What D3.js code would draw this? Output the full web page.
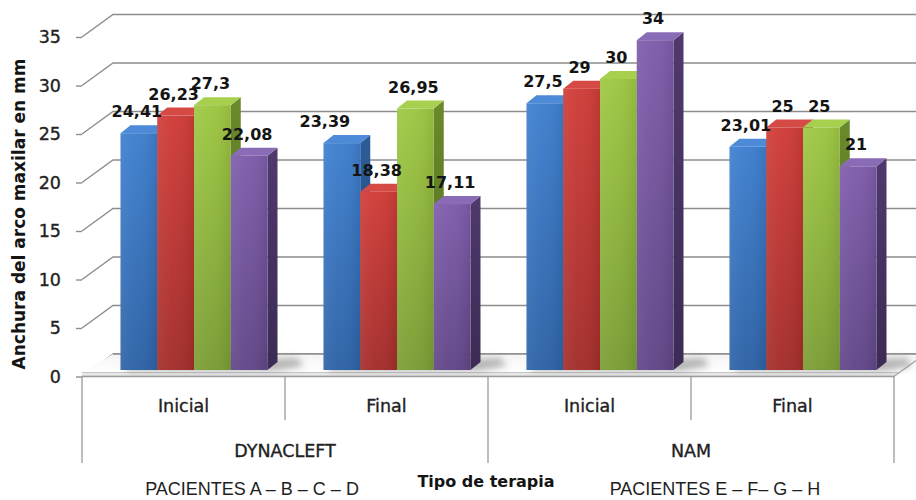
<!DOCTYPE html>
<html>
<head>
<meta charset="utf-8">
<script src="https://cdn.jsdelivr.net/npm/d3@7"></script>
<style>
  html, body { margin: 0; padding: 0; background: #fff; }
  svg { display: block; }
</style>
</head>
<body>
<svg id="chart" width="916" height="500"></svg>
<script>
// ---- data ----
const categories = ["Inicial", "Final", "Inicial", "Final"];
const therapies = ["DYNACLEFT", "NAM"];
const patientGroups = ["PACIENTES A – B – C – D", "PACIENTES E – F– G – H"];
const seriesNames = ["A", "B", "C", "D"];
const serieA = [24.41, 23.39, 27.5, 23.01];
const serieB = [26.23, 18.38, 29, 25];
const serieC = [27.3, 26.95, 30, 25];
const serieD = [22.08, 17.11, 34, 21];
const yTicks = [0, 5, 10, 15, 20, 25, 30, 35];
const yTitle = "Anchura del arco maxilar en mm";
const xTitle = "Tipo de terapia";

const seriesValues = [serieA, serieB, serieC, serieD];

// ---- style ----
const palette = [
  { top: "#4d8bd8", f1: "#3e7fcf", f2: "#2d62a6", s1: "#2c5c98", s2: "#22477a" },
  { top: "#d64a45", f1: "#d03c38", f2: "#a32d2b", s1: "#8c2824", s2: "#6e1e1b" },
  { top: "#a8d04f", f1: "#9ec742", f2: "#7a9d34", s1: "#6a8a2b", s2: "#526b21" },
  { top: "#8a6bb6", f1: "#7e5cab", f2: "#614687", s1: "#4f396d", s2: "#3c2b54" }
];

const svg = d3.select("#chart");
const defs = svg.append("defs");

palette.forEach((p, i) => {
  const gf = defs.append("linearGradient").attr("id", "front" + i)
    .attr("x1", 0).attr("y1", 0).attr("x2", 0).attr("y2", 1);
  gf.append("stop").attr("offset", "0%").attr("stop-color", p.f1);
  gf.append("stop").attr("offset", "100%").attr("stop-color", p.f2);
  const gh = defs.append("linearGradient").attr("id", "frontH" + i)
    .attr("x1", 0).attr("y1", 0).attr("x2", 1).attr("y2", 0);
  gh.append("stop").attr("offset", "0%").attr("stop-color", "#fff").attr("stop-opacity", 0.08);
  gh.append("stop").attr("offset", "40%").attr("stop-color", "#fff").attr("stop-opacity", 0.03);
  gh.append("stop").attr("offset", "100%").attr("stop-color", "#000").attr("stop-opacity", 0.08);
  const gs = defs.append("linearGradient").attr("id", "side" + i)
    .attr("x1", 0).attr("y1", 0).attr("x2", 0).attr("y2", 1);
  gs.append("stop").attr("offset", "0%").attr("stop-color", p.s1);
  gs.append("stop").attr("offset", "100%").attr("stop-color", p.s2);
});

const floorGrad = defs.append("linearGradient").attr("id", "floorG")
  .attr("x1", 0).attr("y1", 0).attr("x2", 0).attr("y2", 1);
floorGrad.append("stop").attr("offset", "0%").attr("stop-color", "#f4f4f4");
floorGrad.append("stop").attr("offset", "100%").attr("stop-color", "#ffffff");
const edgeGrad = defs.append("linearGradient").attr("id", "edgeG")
  .attr("x1", 0).attr("y1", 0).attr("x2", 0).attr("y2", 1);
edgeGrad.append("stop").attr("offset", "0%").attr("stop-color", "#f0f0f0");
edgeGrad.append("stop").attr("offset", "100%").attr("stop-color", "#dcdcdc");

defs.append("filter").attr("id", "blur").attr("x", "-50%").attr("y", "-50%")
  .attr("width", "200%").attr("height", "200%")
  .append("feGaussianBlur").attr("stdDeviation", 3.5);

// ---- geometry ----
const left = 82, right = 894;
const wallDX = 31, wallDY = -22.5;
const y = d3.scaleLinear().domain([0, 35]).range([376.5, 37]);
const x = d3.scaleBand().domain(d3.range(categories.length)).range([left, right]).padding(0);
const groupWidth = 147;
const groupShift = 10.5;
const xSub = d3.scaleBand().domain(seriesNames).range([0, groupWidth]).padding(0);
const barDY = -6.5;           // bars sit slightly behind the front floor edge
const depthDX = 10, depthDY = -8; // bar depth
const yb = v => y(v) + barDY;

// ---- walls / gridlines ----
const grid = svg.append("g");
yTicks.forEach(t => {
  const y0 = y(t);
  grid.append("path")
    .attr("d", `M${left},${y0}L${left + wallDX},${y0 + wallDY}L916,${y0 + wallDY}`)
    .attr("fill", "none").attr("stroke", "#8d8d8d").attr("stroke-width", 1.4);
});

// ---- floor ----
const yF = y(0);
const floorTopFront = yF - 4;
svg.append("path")
  .attr("d", `M${left},${floorTopFront}L${left + wallDX},${yF + wallDY}L930,${yF + wallDY}L${right + 5},${floorTopFront}Z`)
  .attr("fill", "url(#floorG)");
svg.append("path")
  .attr("d", `M${left},${floorTopFront}L${right + 5},${floorTopFront}L${right},${yF}L${left},${yF}Z`)
  .attr("fill", "url(#edgeG)");
svg.append("path")
  .attr("d", `M${left},${floorTopFront}L${right + 5},${floorTopFront}`)
  .attr("stroke", "#c4c4c4").attr("stroke-width", 1).attr("fill", "none");
svg.append("path")
  .attr("d", `M${left + wallDX},${yF + wallDY}L916,${yF + wallDY}`)
  .attr("stroke", "#8d8d8d").attr("stroke-width", 1.4).attr("fill", "none");
svg.append("path")
  .attr("d", `M${right},${yF}L${right + wallDX},${yF + wallDY}`)
  .attr("stroke", "#a8a8a8").attr("stroke-width", 1.2).attr("fill", "none");

// ---- shadows ----
const shadows = svg.append("g").attr("filter", "url(#blur)");
categories.forEach((c, i) => {
  const gx = x(i) + (x.bandwidth() - groupWidth) / 2 + groupShift;
  const gy = yb(0);
  shadows.append("path")
    .attr("d", `M${gx + 6},${gy - 6}L${gx + groupWidth + depthDX + 20},${gy - 12}L${gx + groupWidth + depthDX + 26},${gy - 4}L${gx + groupWidth + 8},${gy + 1}L${gx + 6},${gy + 1}Z`)
    .attr("fill", "#6e6e6e").attr("opacity", 0.5);
});

// ---- bars ----
const bars = svg.append("g");
const labelNudge = { "1-0": -15 };
const fmt = v => String(v).replace(".", ",");
categories.forEach((c, i) => {
  const gx = x(i) + (x.bandwidth() - groupWidth) / 2 + groupShift;
  seriesNames.forEach((s, k) => {
    const v = seriesValues[k][i];
    const bx = gx + xSub(s);
    const bw = xSub.bandwidth();
    const top = yb(v), bot = yb(0);
    const g = bars.append("g");
    g.append("path")
      .attr("d", `M${bx + bw},${top}L${bx + bw + depthDX},${top + depthDY}L${bx + bw + depthDX},${bot + depthDY}L${bx + bw},${bot}Z`)
      .attr("fill", `url(#side${k})`);
    g.append("path")
      .attr("d", `M${bx},${top}L${bx + depthDX},${top + depthDY}L${bx + bw + depthDX},${top + depthDY}L${bx + bw},${top}Z`)
      .attr("fill", palette[k].top);
    g.append("rect").attr("x", bx).attr("y", top).attr("width", bw).attr("height", bot - top)
      .attr("fill", `url(#front${k})`);
    g.append("rect").attr("x", bx).attr("y", top).attr("width", bw).attr("height", bot - top)
      .attr("fill", `url(#frontH${k})`);
  });
});

// ---- data labels ----
const labels = svg.append("g")
  .attr("font-family", "DejaVu Sans, sans-serif")
  .attr("font-weight", "bold").attr("font-size", 16).attr("fill", "#141414")
  .attr("text-anchor", "middle");
categories.forEach((c, i) => {
  const gx = x(i) + (x.bandwidth() - groupWidth) / 2 + groupShift;
  seriesNames.forEach((s, k) => {
    const v = seriesValues[k][i];
    const cx = gx + xSub(s) + xSub.bandwidth() / 2 - 2 + (labelNudge[i + "-" + k] || 0);
    labels.append("text").attr("x", cx).attr("y", yb(v) - 16).text(fmt(v));
  });
});

// ---- y axis ----
const yAxis = svg.append("g").attr("transform", `translate(${left},0)`)
  .call(d3.axisLeft(y).tickValues(yTicks).tickSize(6).tickPadding(15));
yAxis.select(".domain").remove();
yAxis.selectAll(".tick line").attr("stroke", "#8d8d8d").attr("stroke-width", 1.4);
yAxis.selectAll(".tick text").attr("font-family", "DejaVu Sans, sans-serif")
  .attr("font-size", 17.5).attr("fill", "#222")
  .attr("stroke", "#222").attr("stroke-width", 0.35);

svg.append("text")
  .attr("transform", `translate(25,214) rotate(-90)`)
  .attr("text-anchor", "middle")
  .attr("font-family", "DejaVu Sans, sans-serif").attr("font-weight", "bold")
  .attr("font-size", 17).attr("fill", "#141414")
  .text(yTitle);

// ---- category axis ----
const cat = svg.append("g").attr("stroke", "#9a9a9a").attr("stroke-width", 1.3);
cat.append("line").attr("x1", left).attr("x2", right).attr("y1", yF).attr("y2", yF);
d3.range(categories.length + 1).forEach(j => {
  const xx = j < categories.length ? x(j) : right;
  const outer = j % 2 === 0;
  cat.append("line").attr("x1", xx).attr("x2", xx).attr("y1", yF).attr("y2", outer ? 463 : 420);
});

const catText = svg.append("g").attr("font-family", "DejaVu Sans, sans-serif")
  .attr("font-size", 17.5).attr("fill", "#222").attr("stroke", "#222").attr("stroke-width", 0.35)
  .attr("text-anchor", "middle");
categories.forEach((c, i) => {
  catText.append("text").attr("x", x(i) + x.bandwidth() / 2).attr("y", 412).text(c);
});
therapies.forEach((t, j) => {
  const cx = (x(2 * j) + (2 * j + 2 < categories.length ? x(2 * j + 2) : right)) / 2;
  catText.append("text").attr("x", cx).attr("y", 457).text(t);
});

svg.append("text").attr("x", 486).attr("y", 487).attr("text-anchor", "middle")
  .attr("font-family", "DejaVu Sans, sans-serif").attr("font-weight", "bold")
  .attr("font-size", 16).attr("fill", "#141414").text(xTitle);

const patText = svg.append("g").attr("font-family", "Liberation Sans, Arial, sans-serif")
  .attr("font-size", 18).attr("fill", "#1e1e1e").attr("text-anchor", "middle");
patientGroups.forEach((p, j) => {
  const cx = j === 0 ? 252 : 715;
  patText.append("text").attr("x", cx).attr("y", 495).text(p);
});
</script>
</body>
</html>
